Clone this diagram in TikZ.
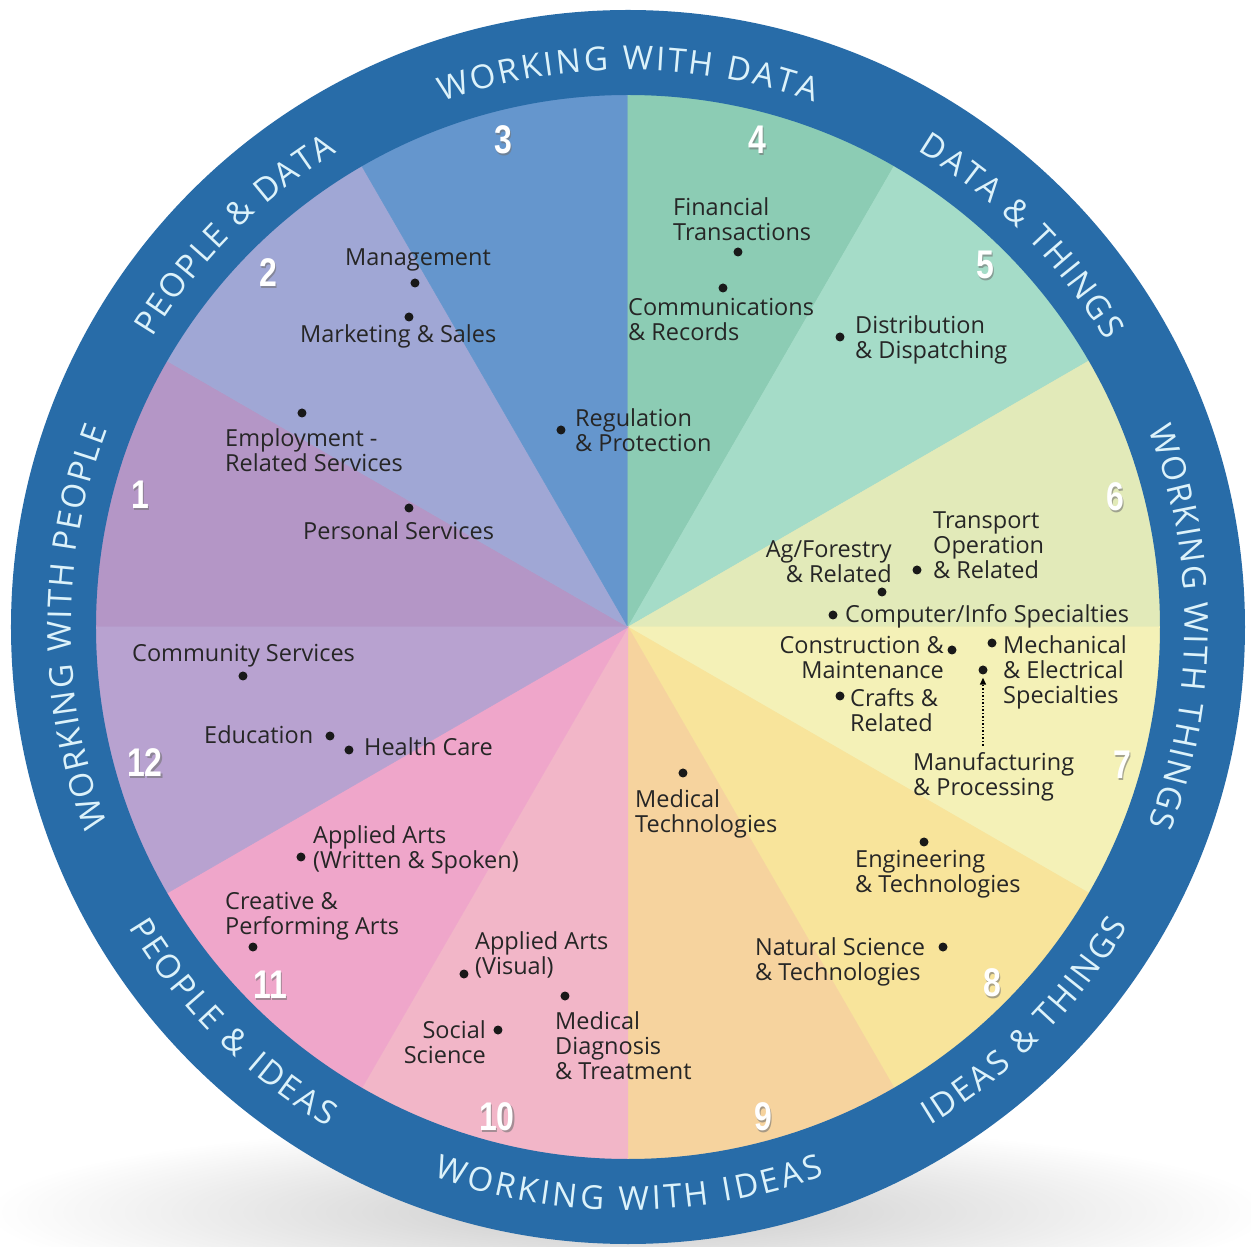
\documentclass[tikz,border=0pt]{standalone}
\usepackage{fontspec}
\usepackage{graphicx}
\setmainfont{Open Sans}
\newfontfamily\numfont{Liberation Sans}
\usetikzlibrary{decorations.text,fadings,arrows.meta}
\definecolor{ringblue}{HTML}{286CA8}
\definecolor{ringtext}{HTML}{DCF2FA}
\definecolor{labeltext}{HTML}{262626}
\definecolor{cOne}{HTML}{B496C6}
\definecolor{cTwo}{HTML}{A0A7D5}
\definecolor{cThree}{HTML}{6596CD}
\definecolor{cFour}{HTML}{8CCCB4}
\definecolor{cFive}{HTML}{A5DCC8}
\definecolor{cSix}{HTML}{E2EAB9}
\definecolor{cSeven}{HTML}{F4F1B7}
\definecolor{cEight}{HTML}{F8E49B}
\definecolor{cNine}{HTML}{F6D39E}
\definecolor{cTen}{HTML}{F2B6C8}
\definecolor{cEleven}{HTML}{EFA6CA}
\definecolor{cTwelve}{HTML}{B8A2D0}
\newcommand\ringfnt{\fontsize{33}{33}\selectfont}
\tikzfading[name=softshadow, inner color=transparent!30, outer color=transparent!100]
\begin{document}
\begin{tikzpicture}[x=1pt,y=1pt,
  lbl/.style={font=\fontsize{23.5}{25}\selectfont, text=labeltext, inner sep=0pt, align=left},
  lblr/.style={lbl, align=right},
  dot/.style={circle, fill=black!90, inner sep=0pt, minimum size=9pt},
  num/.style={font=\numfont\bfseries\fontsize{40}{40}\selectfont, text=white, inner sep=0pt},
  numsh/.style={num, text=black!55, opacity=0.6},
  ringlbl/.style={decorate, decoration={text along path, text color=ringtext, text align=fit to path, text={|\ringfnt|#1}}},
  wedge/.style={fill=#1, draw=#1, line width=0.5pt}
]
\useasboundingbox (-628,-620) rectangle (623,627);
\fill[white] (-628,-620) rectangle (623,627);
% soft shadow under the wheel
\fill[black, opacity=0.3, path fading=softshadow] (0,-585) ellipse [x radius=640, y radius=90];
% sectors
\foreach \a/\c in {150/cOne, 120/cTwo, 90/cThree, 60/cFour, 30/cFive, 0/cSix, -30/cSeven, -60/cEight, -90/cNine, -120/cTen, -150/cEleven, 180/cTwelve}
  \fill[wedge=\c] (0,0) -- (\a:540) arc[start angle=\a, end angle=\a+30, radius=540] -- cycle;
% ring
\fill[ringblue, even odd rule] (0,0) circle (617) circle (532);
% ring texts (clockwise: tops outward)
\path[ringlbl={WORKING WITH DATA}] (109.5:557) arc[start angle=109.5, end angle=70.5, radius=557];
\path[ringlbl={DATA {\&} THINGS}] (58.7:557) arc[start angle=58.7, end angle=30.9, radius=557];
\path[ringlbl={WORKING WITH THINGS}] (20.8:557) arc[start angle=20.8, end angle=-20.8, radius=557];
\path[ringlbl={WORKING WITH PEOPLE}] (200.8:557) arc[start angle=200.8, end angle=159.2, radius=557];
\path[ringlbl={PEOPLE {\&} DATA}] (148.7:557) arc[start angle=148.7, end angle=121.5, radius=557];
% ring texts (counter-clockwise: tops inward)
\path[ringlbl={IDEAS {\&} THINGS}] (-58.7:583) arc[start angle=-58.7, end angle=-30.9, radius=583];
\path[ringlbl={WORKING WITH IDEAS}] (250.5:583) arc[start angle=250.5, end angle=289.7, radius=583];
\path[ringlbl={PEOPLE {\&} IDEAS}] (211:583) arc[start angle=211, end angle=239, radius=583];

\begin{scope}[shift={(-628,627)}, yscale=-1]
% sector numbers
\foreach \n/\px/\py in {1/140/495, 2/268/273, 3/503/140, 4/757/140, 5/985/265, 6/1115/497, 7/1122/765, 8/992/983, 9/763/1117, 10/497/1117, 11/270/985, 12/145/763}{
  \node[numsh] (ns\n) at (\px+1.8,\py+1.8) {\scalebox{0.8}[1]{\n}};
  \node[num] (n\n) at (\px,\py) {\scalebox{0.8}[1]{\n}};
}
% labels and dots
\node[lbl, anchor=base west] (mgmt) at (345,266) {Management};
\node[dot] (dmgmt) at (415,283) {};
\node[lbl, anchor=base west] (mkt) at (300,343) {Marketing \& Sales};
\node[dot] (dmkt) at (409,317) {};
\node[lbl, anchor=north west] (emp) at (225,428) {Employment -\\Related Services};
\node[dot] (demp) at (302,413) {};
\node[lbl, anchor=base west] (pers) at (303,540) {Personal Services};
\node[dot] (dpers) at (409,508) {};
\node[lbl, anchor=north west] (reg) at (575,408) {Regulation\\\& Protection};
\node[dot] (dreg) at (561,430) {};
\node[lbl, anchor=north west] (fin) at (673,197) {Financial\\Transactions};
\node[dot] (dfin) at (738,252) {};
\node[lbl, anchor=north west] (comm) at (628,298) {Communications\\\& Records};
\node[dot] (dcomm) at (723,288) {};
\node[lbl, anchor=north west] (dist) at (855,315) {Distribution\\\& Dispatching};
\node[dot] (ddist) at (840,337) {};
\node[lbl, anchor=north west] (trans) at (933,512) {Transport\\Operation\\\& Related};
\node[dot] (dtrans) at (917,570) {};
\node[lblr, anchor=north east] (ag) at (892,540) {Ag/Forestry\\\& Related};
\node[dot] (dag) at (882,592) {};
\node[lbl, anchor=base west] (comp) at (845,623) {Computer/Info Specialties};
\node[dot] (dcomp) at (833,615) {};
\node[lblr, anchor=north east] (cons) at (944,636) {Construction \&\\Maintenance};
\node[dot] (dcons) at (952,650) {};
\node[lbl, anchor=north west] (mech) at (1003,635) {Mechanical\\\& Electrical\\Specialties};
\node[dot] (dmech) at (992,643) {};
\node[lbl, anchor=north west] (crafts) at (850,688) {Crafts \&\\Related};
\node[dot] (dcrafts) at (840,696) {};
\node[lbl, anchor=north west] (manu) at (913,752) {Manufacturing\\\& Processing};
\node[dot] (dmanu) at (983,670) {};
\draw[dotted, line width=1.5pt, -{Triangle[length=7pt,width=6pt]}, shorten <=6pt, shorten >=3pt] (dmanu |- manu.north) -- (dmanu.south);
\node[lbl, anchor=north west] (medtech) at (635,789) {Medical\\Technologies};
\node[dot] (dmedtech) at (683,773) {};
\node[lbl, anchor=north west] (eng) at (855,850) {Engineering\\\& Technologies};
\node[dot] (deng) at (924,842) {};
\node[lbl, anchor=north west] (nat) at (755,937) {Natural Science\\\& Technologies};
\node[dot] (dnat) at (943,947) {};
\node[lbl, anchor=north west] (appws) at (313,825) {Applied Arts\\(Written \& Spoken)};
\node[dot] (dappws) at (301,857) {};
\node[lbl, anchor=north west] (creat) at (225,892) {Creative \&\\Performing Arts};
\node[dot] (dcreat) at (253,947) {};
\node[lbl, anchor=north west] (appv) at (475,931) {Applied Arts\\(Visual)};
\node[dot] (dappv) at (464,974) {};
\node[lblr, anchor=north east] (soc) at (486,1020) {Social\\Science};
\node[dot] (dsoc) at (498,1030) {};
\node[lbl, anchor=north west] (meddiag) at (555,1011) {Medical\\Diagnosis\\\& Treatment};
\node[dot] (dmeddiag) at (565,996) {};
\node[lbl, anchor=base west] (commun) at (132,662) {Community Services};
\node[dot] (dcommun) at (243,676) {};
\node[lbl, anchor=base west] (edu) at (204,744) {Education};
\node[dot] (dedu) at (330,736) {};
\node[lbl, anchor=base west] (health) at (364,756) {Health Care};
\node[dot] (dhealth) at (349,750) {};
\end{scope}
\end{tikzpicture}
\end{document}
